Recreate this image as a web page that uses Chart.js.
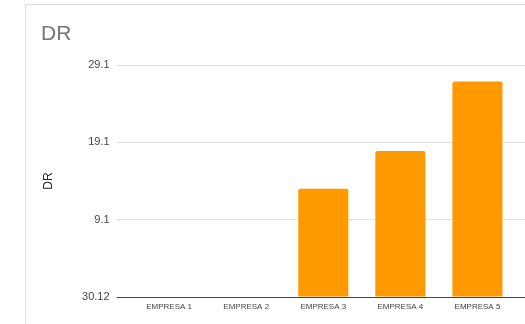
<!DOCTYPE html>
<html>
<head>
<meta charset="utf-8">
<script src="https://cdn.jsdelivr.net/npm/chart.js@4"></script>
<style>
  html, body { margin: 0; padding: 0; background: #fff; overflow: hidden; width: 525px; height: 324px; }
  #card { position: absolute; left: 25px; top: 4px; width: 600px; height: 400px; border: 1px solid #dadce0; box-sizing: border-box; }
  #drChart { position: absolute; left: 0; top: 0; }
</style>
</head>
<body>
<div id="card"></div>
<canvas id="drChart" width="545" height="324"></canvas>
<script>
const categories = ['EMPRESA 1', 'EMPRESA 2', 'EMPRESA 3', 'EMPRESA 4', 'EMPRESA 5'];
const drValues = [null, null, 13.1, 18.0, 27.0];
const yTickValues = [-0.9, 9.1, 19.1, 29.1];
const yTickLabels = ['30.12', '9.1', '19.1', '29.1'];

const gridColor = (ctx) => (ctx.index === 0 ? '#444444' : '#e0e0e0');
const setTicks = (scale) => {
  scale.ticks = yTickValues.map((value) => ({ value }));
};

const ctx = document.querySelector('#drChart');

new Chart(ctx, {
  type: 'bar',
  data: {
    labels: categories,
    datasets: [
      {
        label: 'DR',
        data: drValues,
        base: yTickValues[0],
        backgroundColor: '#ff9900',
        borderRadius: 2,
        borderSkipped: 'start',
        barPercentage: 0.65,
        categoryPercentage: 1
      }
    ]
  },
  options: {
    responsive: false,
    animation: false,
    devicePixelRatio: 1,
    layout: { padding: { left: 41, right: 19, top: 0, bottom: 12 } },
    plugins: {
      legend: { display: false },
      tooltip: { enabled: false },
      title: {
        display: true,
        text: 'DR',
        align: 'start',
        color: '#757575',
        font: { family: 'Arial', size: 21, weight: 'normal', lineHeight: 1.2 },
        padding: { top: 22, bottom: 18 }
      }
    },
    scales: {
      x: {
        afterFit: (scale) => { scale.height = 15; },
        grid: { display: false, drawTicks: false },
        border: { display: false },
        ticks: {
          color: '#444444',
          padding: 5,
          maxRotation: 0,
          autoSkip: false,
          font: { family: 'Arial', size: 8 }
        }
      },
      y: {
        position: 'left',
        min: -0.9,
        max: 29.1,
        afterBuildTicks: setTicks,
        afterFit: (scale) => { scale.width = 89.6; },
        border: { display: false },
        grid: { color: gridColor, tickColor: gridColor, tickLength: 14 },
        ticks: {
          color: '#444444',
          padding: 7,
          font: { family: 'Arial', size: 11 },
          callback: (value, index) => yTickLabels[index]
        },
        title: {
          display: true,
          text: 'DR',
          color: '#222222',
          padding: { top: 0, bottom: 0 },
          font: { family: 'Arial', size: 12 }
        }
      },
      yRight: {
        position: 'right',
        min: -0.9,
        max: 29.1,
        afterBuildTicks: setTicks,
        afterFit: (scale) => { scale.width = 10; },
        border: { display: false },
        grid: { drawOnChartArea: false, color: gridColor, tickColor: gridColor, tickLength: 10 },
        ticks: { display: false }
      }
    }
  }
});
</script>
</body>
</html>
